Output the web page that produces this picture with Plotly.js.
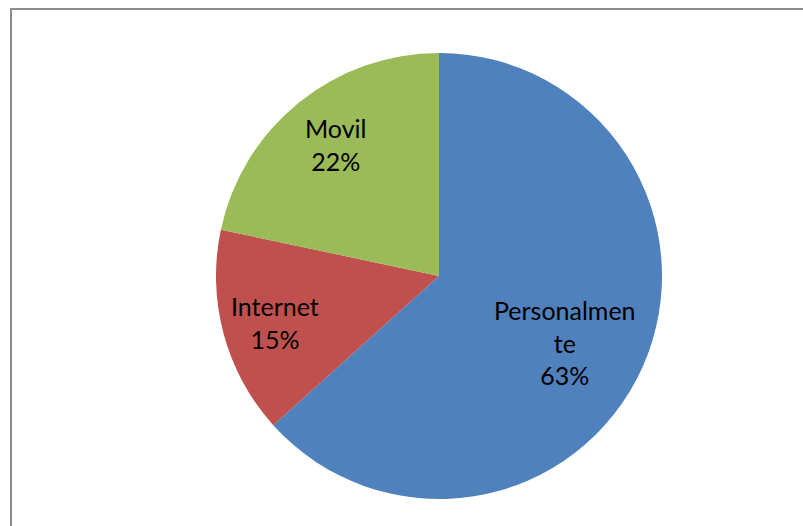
<!DOCTYPE html>
<html><head><meta charset="utf-8">
<script src="https://cdn.plot.ly/plotly-3.0.1.min.js"></script>
<style>body{margin:0;padding:0;background:#fff}#chart{width:803px;height:526px}</style>
</head><body><div id="chart"></div>
<script>
const categories = ["Personalmente", "Internet", "Movil"];
const displayNames = ["Personalmen<br>te", "Internet", "Movil"];
const values = [38, 9, 13];
const colors = ["#4F81BD", "#C0504D", "#9BBB59"];

const W = 803, H = 526;
const cx = 439, cy = 276, r = 223;
const labelRadius = [0.64, 0.765, 0.752];
const labelAngleShift = [3.6, -0.8, 0.9];

const trace = {
  type: "pie",
  labels: categories,
  values: values,
  sort: false,
  direction: "clockwise",
  rotation: 0,
  marker: {colors: colors, line: {color: "#ffffff", width: 0}},
  textinfo: "none",
  hoverinfo: "label+percent",
  showlegend: false,
  domain: {x: [(cx - r) / W, (cx + r) / W], y: [1 - (cy + r) / H, 1 - (cy - r) / H]}
};

const total = values.reduce((a, b) => a + b, 0);
let cum = 0;
const annotations = values.map((v, i) => {
  const mid = (cum + v / 2) / total;
  cum += v;
  const ang = mid * 2 * Math.PI + labelAngleShift[i] * Math.PI / 180;
  const rr = labelRadius[i] * r;
  const px = cx + rr * Math.sin(ang);
  const py = cy - rr * Math.cos(ang);
  return {
    xref: "paper", yref: "paper",
    x: px / W, y: 1 - py / H,
    xanchor: "center", yanchor: "middle",
    showarrow: false, align: "center",
    text: displayNames[i] + "<br>" + Math.round(v / total * 100) + "%",
    font: {family: "Lato, 'Open Sans', sans-serif", size: 25, color: "#000000"}
  };
});

const layout = {
  width: W, height: H,
  margin: {l: 0, r: 0, t: 0, b: 0},
  paper_bgcolor: "#ffffff",
  showlegend: false,
  annotations: annotations,
  shapes: [{
    type: "rect", xref: "paper", yref: "paper",
    x0: 11 / W, x1: 1.2, y0: -0.2, y1: 1 - 9 / H,
    line: {color: "#8c8c8c", width: 2}, fillcolor: "rgba(0,0,0,0)"
  }]
};

Plotly.newPlot("chart", [trace], layout, {displayModeBar: false, staticPlot: true});
</script></body></html>
